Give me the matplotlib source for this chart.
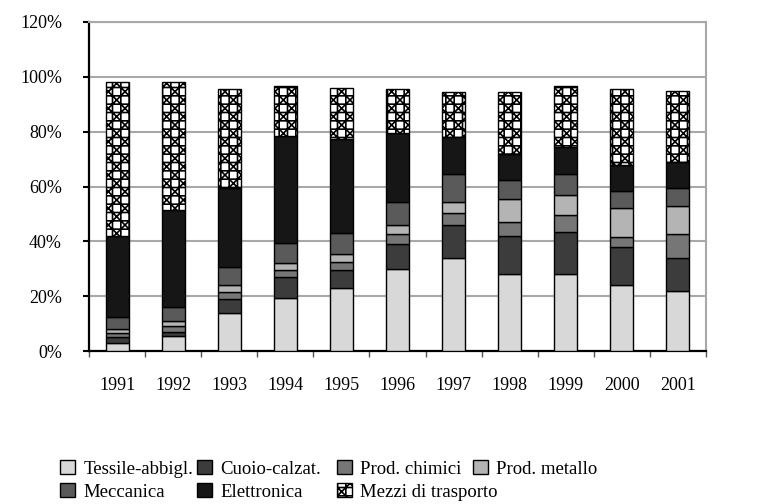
import numpy as np
import matplotlib
matplotlib.use("Agg")
import matplotlib.pyplot as plt
from matplotlib.ticker import FixedLocator, FuncFormatter

years = ["1991", "1992", "1993", "1994", "1995", "1996", "1997", "1998", "1999", "2000", "2001"]

# shares (%) per sector, bottom to top of each stack
tessile = [3, 5.5, 14, 19.5, 23, 30, 34, 28, 28, 24, 22]
cuoio = [2, 1.5, 5, 7.5, 6.5, 9, 12, 14, 15.5, 14, 12]
chimici = [1.5, 2, 2.5, 2.5, 3, 3.5, 4.5, 5, 6, 3.5, 8.5]
metallo = [1.5, 2, 2.5, 2.5, 3, 3.5, 4, 8.5, 7.5, 10.5, 10.5]
meccanica = [4.5, 5, 6.5, 7.5, 7.5, 8.5, 10, 7, 7.5, 6.5, 6.5]
elettronica = [29.5, 35.5, 29, 39, 34.5, 25, 13.5, 9.5, 10, 9.5, 9.5]
mezzi = [56, 46.5, 36, 18, 18.5, 16, 16.5, 22.5, 22, 27.5, 26]

series = [
    ("Tessile-abbigl.", tessile, "#d8d8d8", None),
    ("Cuoio-calzat.", cuoio, "#3c3c3c", None),
    ("Prod. chimici", chimici, "#767676", None),
    ("Prod. metallo", metallo, "#b4b4b4", None),
    ("Meccanica", meccanica, "#5a5a5a", None),
    ("Elettronica", elettronica, "#161616", None),
    ("Mezzi di trasporto", mezzi, "white", "++xx"),
]

plt.rcParams["font.family"] = ["Liberation Serif", "DejaVu Serif"]
plt.rcParams["hatch.linewidth"] = 1.2

fig = plt.figure(figsize=(7.8, 5.04), dpi=100)
ax = fig.add_axes([89 / 780, 1 - 351 / 504, 617 / 780, 329 / 504])

x = np.arange(len(years))
bottom = np.zeros(len(years))
handles = {}
for name, vals, color, hatch in series:
    bars = ax.bar(x, vals, width=0.41, bottom=bottom, color=color, edgecolor="black",
                  linewidth=1.0, hatch=hatch, label=name, zorder=3)
    handles[name] = bars
    bottom += np.array(vals)

ax.set_xlim(-0.5, len(years) - 0.5)
ax.set_ylim(0, 120)
ax.yaxis.set_major_locator(FixedLocator(np.arange(0, 121, 20)))
ax.yaxis.set_major_formatter(FuncFormatter(lambda v, p: f"{v:.0f}%"))
ax.grid(axis="y", color="#a8a8a8", linewidth=1.5, zorder=0)

# tick marks at the category boundaries, labels at the centres
ax.set_xticks(np.arange(-0.5, len(years), 1))
ax.set_xticklabels([])
ax.set_xticks(x, minor=True)
ax.set_xticklabels(years, minor=True)
ax.tick_params(axis="x", which="major", length=4.5, width=1, color="#555555", direction="out")
ax.tick_params(axis="x", which="minor", length=0, pad=19, labelsize=13)
ax.tick_params(axis="y", length=4.5, width=1.5, direction="out", pad=15, labelsize=13)

for s in ["top", "right"]:
    ax.spines[s].set_color("#a8a8a8")
    ax.spines[s].set_linewidth(1.5)
ax.spines["left"].set_linewidth(1.6)
ax.spines["bottom"].set_linewidth(1.6)

# legend: four fixed columns, two rows
columns = [["Tessile-abbigl.", "Meccanica"], ["Cuoio-calzat.", "Elettronica"],
           ["Prod. chimici", "Mezzi di trasporto"], ["Prod. metallo"]]
col_left = [60, 197, 337, 473]
for names, left in zip(columns, col_left):
    fig.legend([handles[n] for n in names], names, loc="upper left",
               bbox_to_anchor=(left / 780, 1 - 460 / 504), frameon=False,
               fontsize=13.5, handlelength=0.8, handleheight=0.8, handletextpad=0.45,
               labelspacing=0.28, borderpad=0, borderaxespad=0)

fig.savefig("out.png", dpi=100)
